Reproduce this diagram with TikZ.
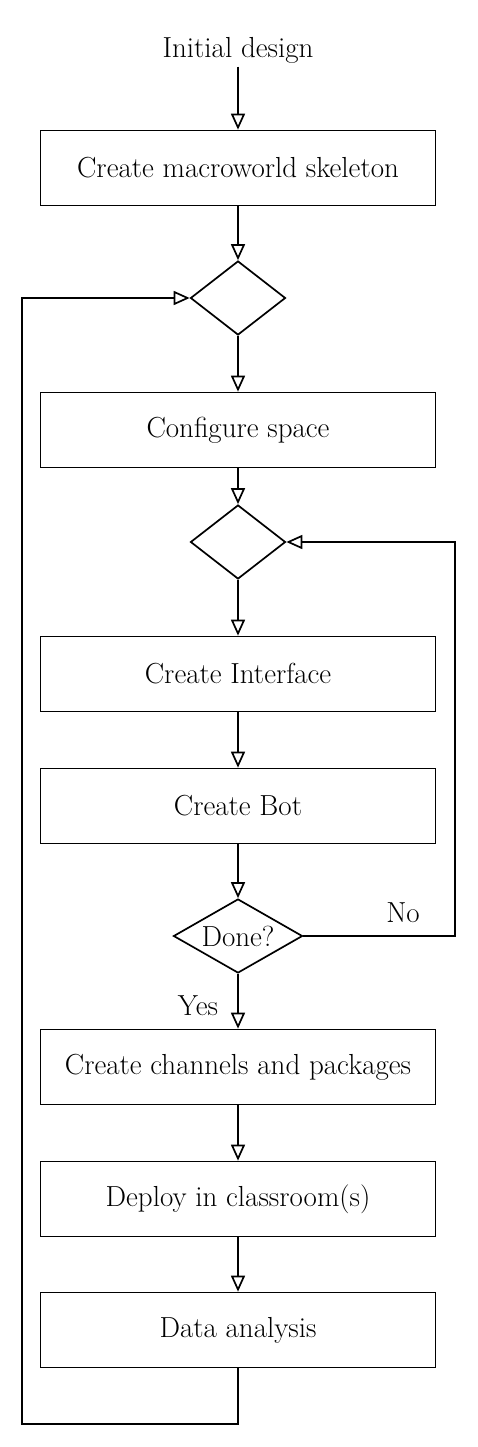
\documentclass[tikz,border=0pt]{standalone}
\usepackage{fontspec}
\usepackage{tikz}
\usetikzlibrary{shapes.geometric,arrows.meta,positioning,calc}

\begin{document}
\begin{tikzpicture}[x=1pt, y=-1pt,
    every node/.style={font=\fontsize{29}{33}\selectfont},
    box/.style={rectangle, draw, line width=1.7pt, minimum width=395pt, minimum height=75pt},
    decision/.style={diamond, draw, line width=1.7pt, inner sep=0pt, aspect=1.6, minimum width=95pt, minimum height=74pt},
    arr/.style={-{Triangle[open, length=16pt, width=14pt]}, line width=1.7pt}
]
    \useasboundingbox (0,0) rectangle (477,1447);
    \node (start) at (238,50) {Initial design};
    \node[box] (skel) at (238,168) {Create macroworld skeleton};
    \node[decision] (d1) at (238,298) {};
    \node[box] (space) at (238,430) {Configure space};
    \node[decision] (d2) at (238,542) {};
    \node[box] (iface) at (238,674) {Create Interface};
    \node[box] (bot) at (238,806) {Create Bot};
    \node[decision, minimum width=129pt] (done) at (238,936) {Done?};
    \node[box] (chan) at (238,1067) {Create channels and packages};
    \node[box] (deploy) at (238,1199) {Deploy in classroom(s)};
    \node[box] (data) at (238,1330) {Data analysis};
    \node (yes) at (198,1006) {Yes};
    \node (no) at (403,913) {No};
    \coordinate (back) at (22,1424);
    \coordinate (noright) at (455,936);
    \draw[arr] (start) -- (skel);
    \draw[arr] (skel) -- (d1);
    \draw[arr] (d1) -- (space);
    \draw[arr] (space) -- (d2);
    \draw[arr] (d2) -- (iface);
    \draw[arr] (iface) -- (bot);
    \draw[arr] (bot) -- (done);
    \draw[arr] (done) -- (chan);
    \draw[arr] (chan) -- (deploy);
    \draw[arr] (deploy) -- (data);
    % loops back
    \draw[arr] (done.east) -- (noright) |- (d2.east);
    \draw[arr] (data.south) |- (back) |- (d1.west);
\end{tikzpicture}
\end{document}
